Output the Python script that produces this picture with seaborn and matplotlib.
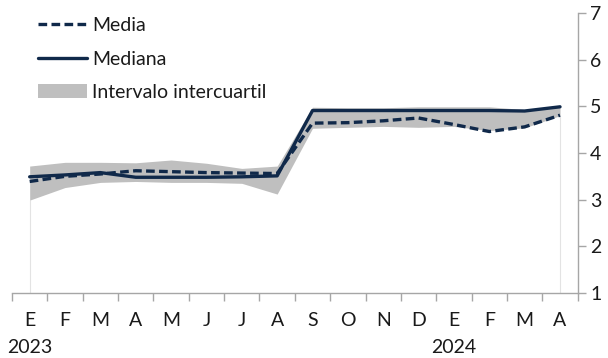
import matplotlib
matplotlib.use("Agg")
import matplotlib.pyplot as plt
import seaborn as sns
import pandas as pd
import numpy as np
from matplotlib.lines import Line2D
from matplotlib.patches import Patch

months = ["E", "F", "M", "A", "M", "J", "J", "A", "S", "O", "N", "D", "E", "F", "M", "A"]
years = ["2023", "2024"]
year_pos = [0, 12]
median = [3.49, 3.53, 3.58, 3.48, 3.48, 3.48, 3.49, 3.51, 4.91, 4.91, 4.91, 4.91, 4.91, 4.91, 4.90, 4.99]
mean = [3.39, 3.50, 3.55, 3.62, 3.60, 3.58, 3.57, 3.56, 4.64, 4.65, 4.69, 4.75, 4.61, 4.46, 4.56, 4.81]
q3 = [3.72, 3.80, 3.80, 3.79, 3.85, 3.78, 3.67, 3.72, 4.98, 4.97, 4.97, 4.99, 4.99, 4.99, 4.93, 5.00]
q1 = [2.99, 3.26, 3.37, 3.39, 3.37, 3.37, 3.35, 3.12, 4.53, 4.55, 4.57, 4.55, 4.57, 4.48, 4.54, 4.80]
yticks = [1, 2, 3, 4, 5, 6, 7]

sns.set_theme(style="white")
plt.rcParams["font.family"] = ["Lato", "DejaVu Sans"]

navy = "#10294a"
band = "#bfbfbf"
axis_col = "#a6a6a6"
fs = 14

x = np.arange(len(months))
df = pd.DataFrame({"x": x, "Media": mean, "Mediana": median, "q1": q1, "q3": q3})

fig = plt.figure(figsize=(6.08, 3.58), dpi=100)
ax = fig.add_axes([12/608, 1-293/358, 565.7/608, 280/358])

ax.fill_between(df["x"], df["q1"], df["q3"], color=band, lw=0, zorder=1)
# faint edges of the base area at first and last category
ax.vlines([x[0], x[-1]], yticks[0], [q1[0], q1[-1]], color="#e3e3e3", lw=0.8, zorder=0.5)
sns.lineplot(data=df, x="x", y="Mediana", ax=ax, color=navy, lw=2.4, zorder=3)
sns.lineplot(data=df, x="x", y="Media", ax=ax, color=navy, lw=2.4, zorder=3,
             linestyle=(0, (2.6, 1.3)))

ax.set_xlim(-0.5, len(months) - 0.5)
ax.set_ylim(1, 7)
ax.set_xlabel("")
ax.set_ylabel("")

# y axis on right
ax.yaxis.tick_right()
ax.set_yticks(yticks)
ax.set_yticklabels([str(v) for v in yticks], fontsize=fs, color="#1a1a1a")
ax.tick_params(axis="y", which="both", right=True, left=False, length=6, width=1,
               color=axis_col, pad=3)

# x axis: ticks at boundaries, labels centred
ax.set_xticks(np.arange(-0.5, len(months), 1.0))
ax.set_xticklabels([])
ax.set_xticks(x, minor=True)
ax.set_xticklabels(months, minor=True, fontsize=fs, color="#1a1a1a")
ax.tick_params(axis="x", which="major", bottom=True, length=6, width=1, color=axis_col)
ax.tick_params(axis="x", which="minor", bottom=False, length=0, pad=14)

for xp, yr in zip(year_pos, years):
    ax.text(xp, -0.193, yr, transform=ax.get_xaxis_transform(), ha="center", va="center",
            fontsize=fs, color="#1a1a1a")

for s in ["top", "left"]:
    ax.spines[s].set_visible(False)
for s in ["right", "bottom"]:
    ax.spines[s].set_color(axis_col)
    ax.spines[s].set_linewidth(1)

handles = [Line2D([], [], color=navy, lw=2.4, linestyle=(0, (2.6, 1.3))),
           Line2D([], [], color=navy, lw=2.4),
           Patch(facecolor=band, edgecolor="none")]
leg = fig.legend(handles, ["Media", "Mediana", "Intervalo intercuartil"],
                 loc="upper left", bbox_to_anchor=(38/608, 1-17/358), frameon=False,
                 fontsize=fs, handlelength=2.5, handletextpad=0.3, labelspacing=0.85,
                 borderpad=0, borderaxespad=0)
for t in leg.get_texts():
    t.set_color("#1a1a1a")

fig.savefig("out.png", dpi=100)
